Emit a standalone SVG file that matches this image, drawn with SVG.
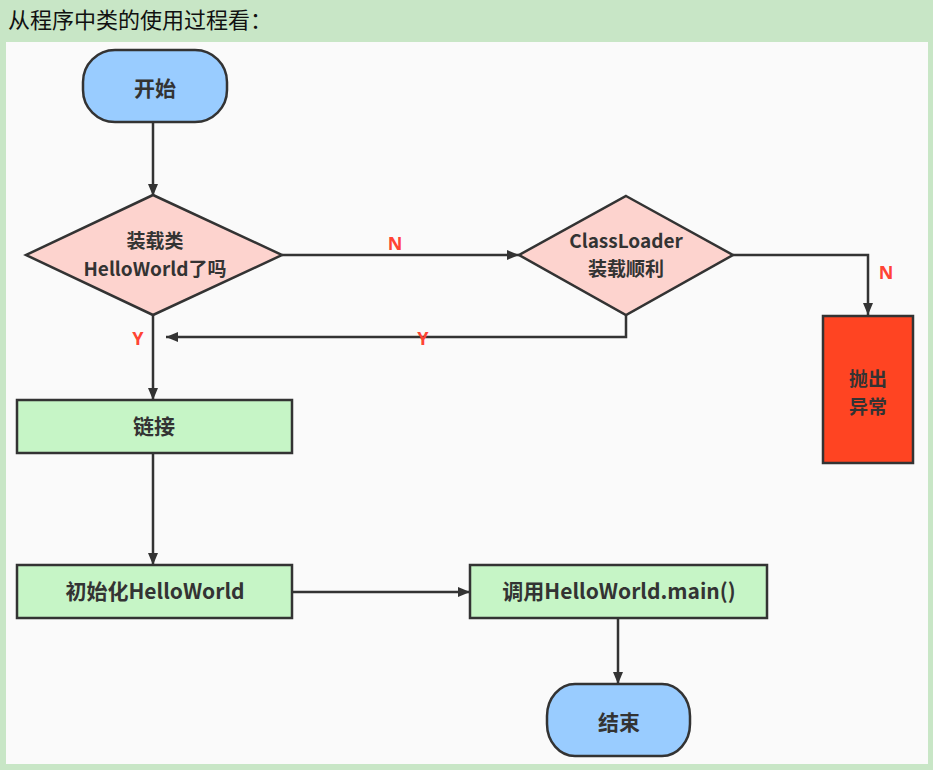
<svg xmlns="http://www.w3.org/2000/svg" width="933" height="770" viewBox="0 0 933 770">
<defs>
<marker id="ah" viewBox="0 0 12 10" refX="12" refY="5" markerWidth="12" markerHeight="10" markerUnits="userSpaceOnUse" orient="auto">
<path d="M0,0 L12,5 L0,10 Z" fill="#333"/>
</marker>
<style>
.ln{fill:none;stroke:#333;stroke-width:2.5;}
.nd{stroke:#333;stroke-width:2.5;}
.t{font-family:"Noto Sans CJK SC","Noto Sans",sans-serif;font-weight:bold;font-size:21px;fill:#333;text-anchor:middle;}
.t2{font-size:19px;}
.lbl{font-family:"Noto Sans","Noto Sans CJK SC",sans-serif;font-weight:bold;font-size:18px;fill:#ff4433;text-anchor:middle;}
</style>
</defs>
<rect x="0" y="0" width="933" height="770" fill="#c8e6c6"/>
<rect x="6" y="42" width="922" height="722" fill="#fafafa"/>
<text x="8" y="28" font-family="'Noto Sans CJK SC',sans-serif" font-size="22" fill="#111">从程序中类的使用过程看：</text>

<g id="connectors">
<line class="ln" x1="153" y1="122" x2="153" y2="196" marker-end="url(#ah)"/>
<line class="ln" x1="282" y1="255" x2="519" y2="255" marker-end="url(#ah)"/>
<polyline class="ln" points="733,255 868,255 868,315" marker-end="url(#ah)"/>
<polyline class="ln" points="626,315 626,337 166,337" marker-end="url(#ah)"/>
<line class="ln" x1="153" y1="315" x2="153" y2="400" marker-end="url(#ah)"/>
<line class="ln" x1="153" y1="453" x2="153" y2="565" marker-end="url(#ah)"/>
<line class="ln" x1="292" y1="592" x2="470" y2="592" marker-end="url(#ah)"/>
<line class="ln" x1="618" y1="618" x2="618" y2="684" marker-end="url(#ah)"/>
<text class="lbl" x="395" y="250">N</text>
<text class="lbl" x="886" y="279">N</text>
<text class="lbl" x="423" y="345">Y</text>
<text class="lbl" x="138" y="345">Y</text>
</g>

<g id="start">
<rect class="nd" x="83" y="50" width="144" height="72" rx="32" ry="32" fill="#99ccff"/>
<text class="t" x="155" y="96">开始</text>
</g>
<g id="decision1">
<polygon class="nd" points="153,195 282,255 153,315 26,255" fill="#fdd3ce"/>
<text class="t t2" x="155" y="248">装载类</text>
<text class="t t2" x="155" y="276">HelloWorld了吗</text>
</g>
<g id="decision2">
<polygon class="nd" points="626,196 733,255 626,315 519,255" fill="#fdd3ce"/>
<text class="t t2" x="626" y="248">ClassLoader</text>
<text class="t t2" x="626" y="276">装载顺利</text>
</g>
<g id="exception">
<rect class="nd" x="823" y="316" width="90" height="147" fill="#ff4422"/>
<text class="t t2" x="868" y="386">抛出</text>
<text class="t t2" x="868" y="414">异常</text>
</g>
<g id="link">
<rect class="nd" x="17" y="400" width="275" height="53" fill="#c6f5c6"/>
<text class="t" x="154" y="434">链接</text>
</g>
<g id="init">
<rect class="nd" x="17" y="565" width="275" height="53" fill="#c6f5c6"/>
<text class="t" x="155" y="599">初始化HelloWorld</text>
</g>
<g id="callmain">
<rect class="nd" x="470" y="565" width="297" height="53" fill="#c6f5c6"/>
<text class="t" x="619" y="599">调用HelloWorld.main()</text>
</g>
<g id="end">
<rect class="nd" x="547" y="684" width="143" height="72" rx="28" ry="32" fill="#99ccff"/>
<text class="t" x="619" y="730">结束</text>
</g>
</svg>
